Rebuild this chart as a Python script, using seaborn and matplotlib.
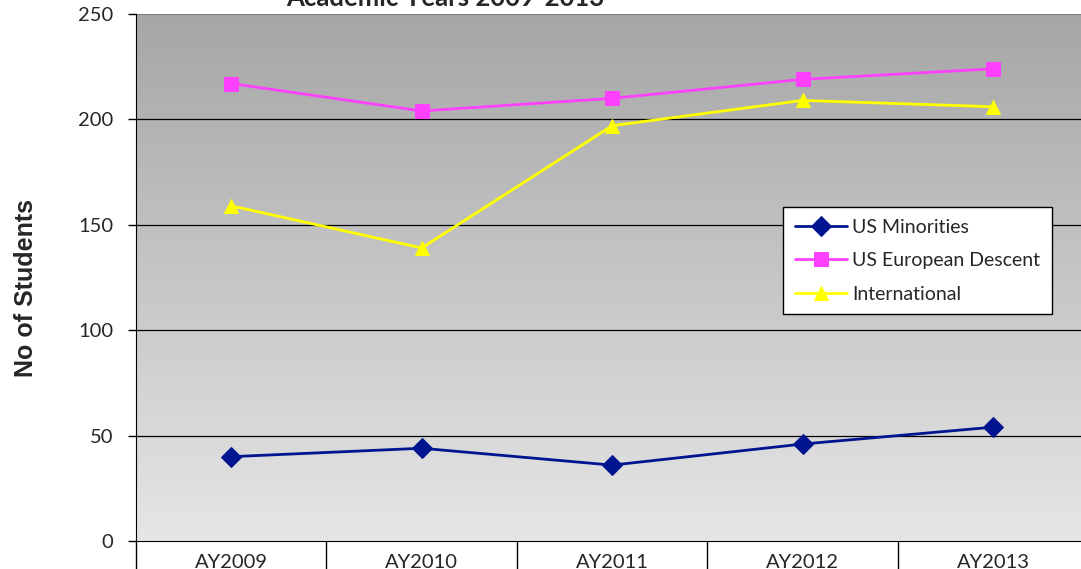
import numpy as np
import pandas as pd
import seaborn as sns
import matplotlib.pyplot as plt

# data
years = ["AY2009", "AY2010", "AY2011", "AY2012", "AY2013"]
us_minorities = [40, 44, 36, 46, 54]
us_european = [217, 204, 210, 219, 224]
international = [159, 139, 197, 209, 206]

series = ["US Minorities", "US European Descent", "International"]
farger = {"US Minorities": "#00158f", "US European Descent": "#ff40ff", "International": "#ffff00"}
markorer = {"US Minorities": "D", "US European Descent": "s", "International": "^"}

df = pd.DataFrame({
    "Year": years * 3,
    "Students": us_minorities + us_european + international,
    "Group": [series[0]] * 5 + [series[1]] * 5 + [series[2]] * 5,
})
df["pos"] = df["Year"].map({y: i for i, y in enumerate(years)})

sns.set_style("white")
plt.rcParams["font.family"] = ["Lato", "DejaVu Sans"]

fig = plt.figure(figsize=(10.81, 5.69), dpi=100)
ax = fig.add_axes([136 / 1081, 28 / 569, 945 / 1081, 527 / 569])

# grå gradient bakgrunn
grad = np.linspace(0, 1, 256).reshape(-1, 1)
ax.imshow(grad, extent=[0, 1, 0, 1], transform=ax.transAxes, aspect="auto",
          cmap=plt.matplotlib.colors.LinearSegmentedColormap.from_list("g", ["#e6e6e6", "#a6a6a6"]),
          origin="lower", zorder=0)

for y in [50, 100, 150, 200]:
    ax.axhline(y, color="black", lw=0.9, zorder=1)

sizes = {"US Minorities": 10, "US European Descent": 9.5, "International": 10}
for g in series:
    d = df[df["Group"] == g]
    sns.lineplot(data=d, x="pos", y="Students", ax=ax, color=farger[g], lw=2,
                 marker=markorer[g], markersize=sizes[g], markeredgecolor=farger[g],
                 label=g, zorder=3)

ax.set_xlim(-0.5, 4.462)
ax.set_ylim(0, 250)
ax.set_yticks([0, 50, 100, 150, 200, 250])
ax.set_xticks(range(5))
ax.set_xticklabels(years)
ax.set_xticks([-0.5, 0.5, 1.5, 2.5, 3.5], minor=True)
ax.tick_params(bottom=True, left=True, which="both")
ax.tick_params(axis="x", which="major", length=0, labelsize=14.5, pad=9)
ax.tick_params(axis="x", which="minor", length=40, width=1, direction="out", color="black")
ax.tick_params(axis="y", length=5.5, width=1, direction="out", color="black", labelsize=14.5, pad=11)
ax.set_xlabel("")
ax.set_ylabel("No of Students", fontsize=18, fontweight="bold", family="Liberation Sans")
ax.yaxis.set_label_coords(-0.104, 0.48)

for s in ["top", "right"]:
    ax.spines[s].set_visible(False)
ax.spines["left"].set_color("black")
ax.spines["bottom"].set_color("black")
ax.axhline(250, color="#808080", lw=1.5, zorder=2)

fig.text(445 / 1081, 1.0 - 6 / 569, "Academic Years 2009-2013", ha="center", va="baseline",
         fontsize=18.5, fontweight="bold")

leg = ax.legend(loc="upper left", bbox_to_anchor=(0.685, 0.634), frameon=True, fancybox=False,
                fontsize=14, handlelength=2.7, labelspacing=0.85, borderpad=0.6,
                handletextpad=0.25, borderaxespad=0)
leg.get_frame().set_edgecolor("black")
leg.get_frame().set_linewidth(1)
leg.get_frame().set_alpha(1)

fig.savefig("out.png", dpi=100)
